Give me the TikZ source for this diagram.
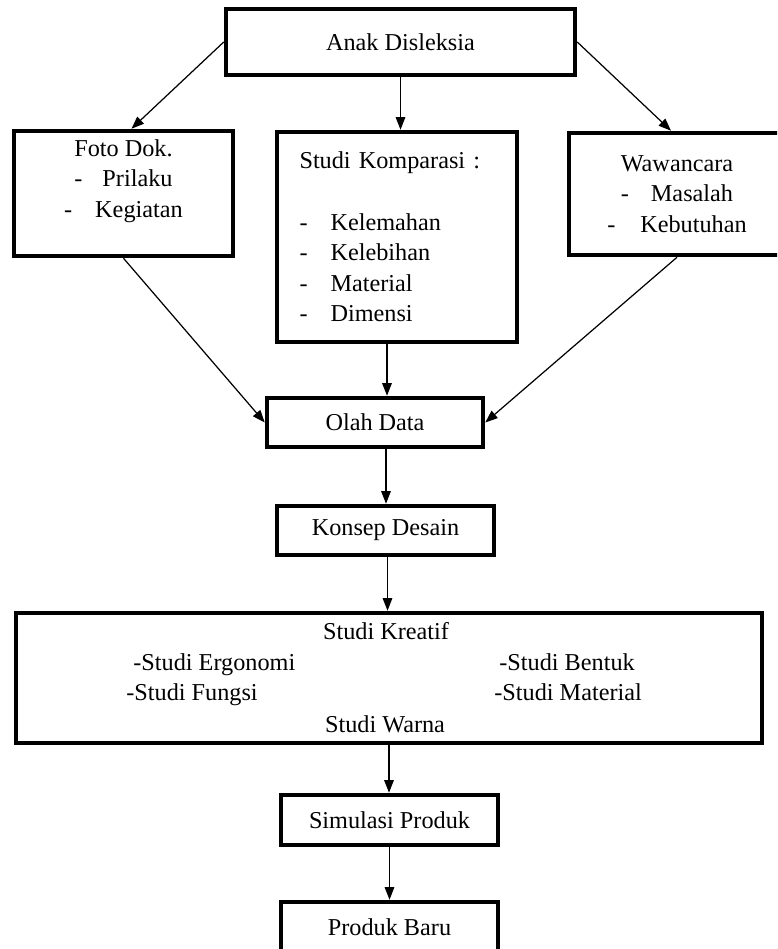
\documentclass[tikz,border=0pt]{standalone}
\usepackage{fontspec}
\setmainfont{Liberation Serif}
\usetikzlibrary{arrows.meta,calc}
\newcommand{\diafont}{\fontsize{13.8pt}{17.4pt}\selectfont}
\newcommand{\dash}[1]{\makebox[#1][l]{-}}

\begin{document}
\begin{tikzpicture}[
  x=0.02cm, y=-0.02cm,
  >={Triangle[length=2.5mm, width=1.9mm]},
  box/.style={draw=black, line width=2.6pt, align=center, font=\diafont, inner sep=0pt},
  txt/.style={font=\diafont, inner sep=0pt},
  arr/.style={->, line width=0.7pt, black}
]
\clip (0,0) rectangle (777,949);

% top row
\node[box, minimum width=6.98cm, minimum height=1.32cm] (anak) at (400.5,42) {Anak Disleksia};
\node[box, minimum width=4.38cm, minimum height=2.5cm] (foto) at (123.5,193.5)
  {Foto Dok.\\ \dash{0.56cm}Prilaku\\ \dash{0.62cm}Kegiatan\\ \mbox{}};
\node[box, minimum height=4.2cm, text width=3.9cm, inner xsep=0.45cm, align=left] (komp) at (397,237)
  {Studi Komparasi :\\[17.4pt] \dash{0.62cm}Kelemahan\\ \dash{0.62cm}Kelebihan\\ \dash{0.62cm}Material\\ \dash{0.62cm}Dimensi};
\node[box, minimum width=4.32cm, minimum height=2.44cm] (waw) at (677,194)
  {Wawancara\\ \dash{0.6cm}Masalah\\ \dash{0.66cm}Kebutuhan};

\draw[arr] (anak.west) -- ($(foto.north)+(8,0)$);
\draw[arr] (anak.south) -- (anak.south |- komp.north);
\draw[arr] (anak.east) -- ($(waw.north)+(-6,0)$);

% main column
\node[box, minimum width=4.32cm, minimum height=0.98cm] (olah) at (375,422.5) {Olah Data};
\node[box, minimum width=4.34cm, minimum height=0.98cm] (konsep) at (385.5,530.5) {Konsep Desain};
\node[box, minimum width=14.92cm, minimum height=2.6cm] (kreatif) at (389,678) {};
\node[box, minimum width=4.34cm, minimum height=1cm] (simul) at (389.5,820) {Simulasi Produk};
\node[box, minimum width=4.34cm, minimum height=1.02cm] (baru) at (389.5,927.5) {Produk Baru};

\node[txt, anchor=base] (kt) at (386,639) {Studi Kreatif};
\node[txt, anchor=base west] (ergo) at (133,670) {-Studi Ergonomi};
\node[txt, anchor=base west] (bentuk) at (499,670) {-Studi Bentuk};
\node[txt, anchor=base west] (fungsi) at (126,700) {-Studi Fungsi};
\node[txt, anchor=base west] (mat) at (494,700) {-Studi Material};
\node[txt, anchor=base] (warna) at (385,732) {Studi Warna};

% feet of the vertical arrows
\coordinate (k1) at ($(komp.south)+(-10,0)$);
\coordinate (o1) at ($(olah.south)+(11,0)$);
\coordinate (c1) at ($(konsep.south)+(2,0)$);

\draw[arr] (foto.south) -- (olah.west);
\draw[arr] (k1) -- (k1 |- olah.north);
\draw[arr] (waw.south) -- (olah.east);
\draw[arr] (o1) -- (o1 |- konsep.north);
\draw[arr] (c1) -- (c1 |- kreatif.north);
\draw[arr] (kreatif.south) -- (kreatif.south |- simul.north);
\draw[arr] (simul) -- (baru);
\end{tikzpicture}
\end{document}
